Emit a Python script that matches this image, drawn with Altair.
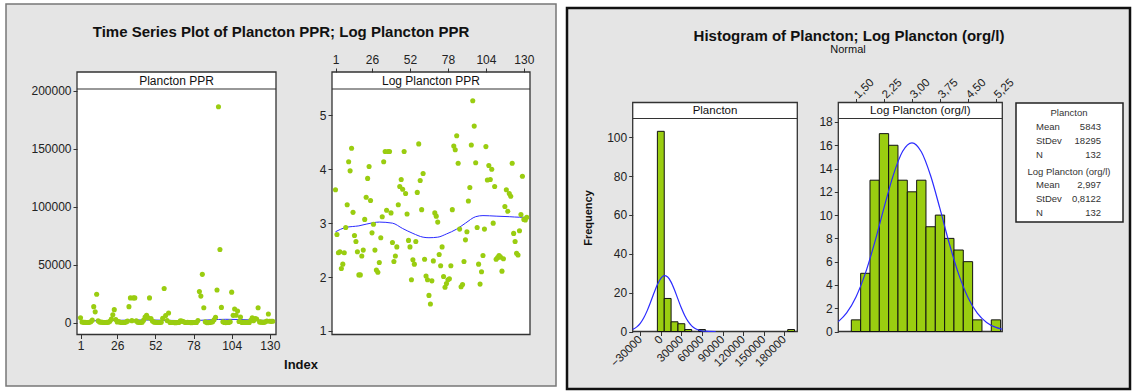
import altair as alt
import pandas as pd

FONT = "Liberation Sans"
GREEN = "#9acd10"
BLUE = "#2b2bff"

# ---------------- data ----------------
index = list(range(1, 133))

log_plancton = [3.62, 2.79, 2.45, 2.47, 2.16, 2.24, 2.45, 2.92, 3.34, 4.14,
                3.97, 4.39, 3.20, 2.77, 2.66, 2.47, 2.04, 2.04, 2.39, 2.50,
                3.07, 3.48, 3.83, 4.05, 3.42, 2.82, 2.98, 2.50, 2.13, 2.09,
                2.27, 2.73, 3.12, 4.14, 4.33, 3.24, 4.33, 4.33, 3.19, 2.64,
                2.29, 2.39, 2.56, 3.34, 3.68, 3.81, 3.63, 4.33, 3.55, 3.17,
                2.68, 2.56, 1.95, 2.32, 2.24, 2.66, 3.57, 4.47, 3.79, 3.25,
                3.92, 2.33, 2.02, 1.95, 1.66, 1.50, 1.93, 2.30, 3.19, 3.13,
                3.02, 2.42, 2.21, 2.56, 2.01, 1.81, 1.88, 1.95, 1.97, 2.21,
                3.25, 4.43, 4.36, 4.62, 4.11, 2.89, 1.82, 1.86, 2.29, 2.69,
                2.84, 3.41, 3.66, 4.45, 5.27, 4.80, 4.12, 2.92, 2.24, 1.87,
                2.10, 2.40, 2.89, 4.42, 3.80, 4.07, 3.81, 4.00, 3.00, 3.68,
                2.33, 2.36, 2.40, 2.37, 2.11, 2.34, 3.31, 3.62, 3.22, 3.55,
                3.50, 4.11, 2.81, 2.66, 2.44, 2.41, 2.86, 3.16, 3.87, 3.07,
                3.06, 3.11]

plancton = [4169, 617, 282, 295, 145, 174, 282, 832, 2188, 13804,
            9333, 24547, 1585, 589, 457, 295, 110, 110, 245, 316,
            1175, 3020, 6761, 11220, 2630, 661, 955, 316, 135, 123,
            186, 537, 1318, 13804, 21380, 1738, 21380, 21380, 1549, 437,
            195, 245, 363, 2188, 4786, 6457, 4266, 21380, 3548, 1479,
            479, 363, 89, 209, 174, 457, 3715, 29512, 6166, 1778,
            8318, 214, 105, 89, 46, 32, 85, 200, 1549, 1349,
            1047, 263, 162, 363, 102, 65, 76, 89, 93, 162,
            1778, 26915, 22909, 41687, 12882, 776, 66, 72, 195, 490,
            692, 2570, 4571, 28184, 186209, 63096, 13183, 832, 174, 74,
            126, 251, 776, 26303, 6310, 11749, 6457, 10000, 1000, 4786,
            214, 229, 251, 234, 129, 219, 2042, 4169, 1660, 3548,
            3162, 12882, 646, 457, 275, 257, 724, 1445, 7413, 1175,
            1148, 1288]

loess_log_idx = [1, 8, 17, 27, 31, 40, 47, 54, 61, 65, 71, 77, 84, 90, 97, 102, 111, 120, 127, 132]
loess_log_val = [2.84, 2.92, 2.95, 3.01, 3.02, 3.00, 2.90, 2.81, 2.74, 2.73,
                 2.74, 2.80, 2.89, 3.00, 3.12, 3.14, 3.13, 3.12, 3.11, 3.11]
loess_raw_idx = [1, 20, 40, 50, 60, 75, 90, 100, 110, 120, 132]
loess_raw_val = [1500, 1800, 2300, 2300, 2000, 1700, 2500, 2900, 2700, 2200, 1800]

hist_raw_center = [0, 10000, 20000, 30000, 40000, 60000, 190000]
hist_raw_count = [103, 17, 5, 4, 1, 1, 1]
hist_raw_width = 10000
hist_log_center = [1.50, 1.75, 2.00, 2.25, 2.50, 2.75, 3.00, 3.25,
                   3.50, 3.75, 4.00, 4.25, 4.50, 4.75, 5.00, 5.25]
hist_log_count = [1, 5, 13, 17, 16, 13, 12, 13, 9, 10, 8, 7, 6, 1, 0, 1]
hist_log_width = 0.25

norm_raw_x = [-41000, -35000, -30000, -25000, -20000, -15000, -10000, -5000, 0, 5000,
              10000, 15000, 20000, 25000, 30000, 35000, 40000, 45000, 50000, 55000,
              60000, 65000, 70000, 80000]
norm_raw_y = [1.09, 2.38, 4.22, 6.95, 10.61, 15.04, 19.78, 24.15, 27.35, 28.75,
              28.05, 25.40, 21.34, 16.64, 12.04, 8.08, 5.04, 2.91, 1.56, 0.78,
              0.36, 0.16, 0.06, 0.01]
norm_log_x = [1.026, 1.25, 1.5, 1.75, 2.0, 2.25, 2.5, 2.75, 3.0, 3.25,
              3.5, 3.75, 4.0, 4.25, 4.5, 4.75, 5.0, 5.25, 5.42]
norm_log_y = [0.85, 1.60, 2.97, 4.99, 7.63, 10.62, 13.44, 15.48, 16.21, 15.44,
              13.38, 10.55, 7.56, 4.93, 2.93, 1.58, 0.78, 0.35, 0.19]

ts_ticks = [1, 26, 52, 78, 104, 130]
raw_ticks = [0, 50000, 100000, 150000, 200000]
log_ticks = [1, 2, 3, 4, 5]
hraw_x_ticks = [-30000, 0, 30000, 60000, 90000, 120000, 150000, 180000]
hraw_y_ticks = [0, 20, 40, 60, 80, 100]
hlog_x_ticks = [1.50, 2.25, 3.00, 3.75, 4.50, 5.25]
hlog_y_ticks = [0, 2, 4, 6, 8, 10, 12, 14, 16, 18]

stats_rows = [("Mean", "5843"), ("StDev", "18295"), ("N", "132")]
stats_rows_log = [("Mean", "2,997"), ("StDev", "0,8122"), ("N", "132")]

# ---------------- layout (pixels) ----------------
W, H = 1132, 391
P1 = dict(x0=77, x1=276, st=72, sb=89, bot=334.5)
P2 = dict(x0=332, x1=530, st=72, sb=89, bot=334.5)
P3 = dict(x0=632.7, x1=797.3, st=102.5, sb=118.5, bot=331.5)
P4 = dict(x0=838.3, x1=1002.3, st=102.5, sb=118.5, bot=331.5)

TS_DOM = [-1.4, 134.2]
RAW_DOM = [-10200, 201500]
LOG_DOM = [0.935, 5.488]
HRAW_X_DOM = [-41000, 199000]
HRAW_Y_DOM = [0, 109.6]
HLOG_X_DOM = [1.026, 5.42]
HLOG_Y_DOM = [0, 18.3]

one = pd.DataFrame({"k": [0]})


def rect(x0, x1, y0, y1, fill, stroke=None, sw=1.0):
    kw = dict(fill=fill)
    if stroke:
        kw.update(stroke=stroke, strokeWidth=sw)
    return alt.Chart(one).mark_rect(**kw).encode(
        x=alt.value(x0), x2=alt.value(x1), y=alt.value(y0), y2=alt.value(y1))


def hline(x0, x1, y, color="#333333", sw=1.2):
    return alt.Chart(one).mark_rule(color=color, strokeWidth=sw).encode(
        x=alt.value(x0), x2=alt.value(x1), y=alt.value(y))


def text(s, x, y, size=12, weight="normal", align="center", angle=0, color="#111111"):
    kw = dict(text=s, font=FONT, fontSize=size, fontWeight=weight, align=align,
              baseline="middle", color=color)
    if angle:
        kw["angle"] = angle
    return alt.Chart(one).mark_text(**kw).encode(x=alt.value(x), y=alt.value(y))


def axis(orient, offset, values, fmt=None, expr=None, angle=None, align=None,
         baseline=None, size=12):
    kw = dict(orient=orient, offset=offset, values=values, grid=False, domain=False,
              ticks=True, tickSize=4, tickColor="#333333", tickWidth=1,
              labelColor="#222222", labelFont=FONT, labelFontSize=size,
              labelPadding=2, labelFlush=False, labelOverlap=False, title="", zindex=1)
    if fmt:
        kw["format"] = fmt
    if expr:
        kw["labelExpr"] = expr
    if angle is not None:
        kw["labelAngle"] = angle
    if align:
        kw["labelAlign"] = align
    if baseline:
        kw["labelBaseline"] = baseline
    return alt.Axis(**kw)


def sc(dom, rng):
    return alt.Scale(domain=dom, range=rng, nice=False, zero=False)


def frame(p):
    return [rect(p["x0"], p["x1"], p["st"], p["bot"], "white", "#333333", 1.3),
            hline(p["x0"], p["x1"], p["sb"])]


# ---------------- data frames ----------------
df_ts = pd.DataFrame({"idx": index, "raw": plancton, "log": log_plancton})
df_lo_log = pd.DataFrame({"idx": loess_log_idx, "v": loess_log_val})
df_lo_raw = pd.DataFrame({"idx": loess_raw_idx, "v": loess_raw_val})
df_hraw = pd.DataFrame({"c": hist_raw_center, "n": hist_raw_count})
df_hraw["a"] = df_hraw["c"] - hist_raw_width / 2
df_hraw["b"] = df_hraw["c"] + hist_raw_width / 2
df_hraw["z"] = 0
df_hraw = df_hraw[df_hraw["n"] > 0]
df_hlog = pd.DataFrame({"c": hist_log_center, "n": hist_log_count})
df_hlog["a"] = df_hlog["c"] - hist_log_width / 2
df_hlog["b"] = df_hlog["c"] + hist_log_width / 2
df_hlog["z"] = 0
df_hlog = df_hlog[df_hlog["n"] > 0]
df_nraw = pd.DataFrame({"x": norm_raw_x, "y": norm_raw_y})
df_nlog = pd.DataFrame({"x": norm_log_x, "y": norm_log_y})

# ---------------- panel 1 : Plancton PPR time series ----------------
x1s = sc(TS_DOM, [P1["x0"], P1["x1"]])
y1s = sc(RAW_DOM, [P1["bot"], P1["sb"]])
p1_pts = alt.Chart(df_ts).mark_circle(size=26, color=GREEN, opacity=1).encode(
    x=alt.X("idx:Q", scale=x1s, axis=axis("bottom", P1["bot"] - H, ts_ticks)),
    y=alt.Y("raw:Q", scale=y1s, axis=axis("left", -P1["x0"], raw_ticks, fmt="d")))
p1_line = alt.Chart(df_lo_raw).mark_line(color=BLUE, strokeWidth=1, interpolate="monotone").encode(
    x=alt.X("idx:Q", scale=x1s, axis=None), y=alt.Y("v:Q", scale=y1s, axis=None))

# ---------------- panel 2 : Log Plancton PPR time series ----------------
x2s = sc(TS_DOM, [P2["x0"], P2["x1"]])
y2s = sc(LOG_DOM, [P2["bot"], P2["sb"]])
p2_pts = alt.Chart(df_ts).mark_circle(size=26, color=GREEN, opacity=1).encode(
    x=alt.X("idx:Q", scale=x2s, axis=axis("top", -P2["st"], ts_ticks)),
    y=alt.Y("log:Q", scale=y2s, axis=axis("left", -P2["x0"], log_ticks)))
p2_line = alt.Chart(df_lo_log).mark_line(color=BLUE, strokeWidth=1, interpolate="monotone").encode(
    x=alt.X("idx:Q", scale=x2s, axis=None), y=alt.Y("v:Q", scale=y2s, axis=None))

# ---------------- panel 3 : histogram Plancton ----------------
x3s = sc(HRAW_X_DOM, [P3["x0"], P3["x1"]])
y3s = sc(HRAW_Y_DOM, [P3["bot"], P3["sb"]])
p3_bars = alt.Chart(df_hraw).mark_rect(fill=GREEN, stroke="#111111", strokeWidth=1).encode(
    x=alt.X("a:Q", scale=x3s, axis=axis("bottom", P3["bot"] - H, hraw_x_ticks, fmt="d",
                                        angle=315, align="right", baseline="middle", size=11.5)),
    x2="b:Q",
    y=alt.Y("n:Q", scale=y3s, axis=axis("left", -P3["x0"], hraw_y_ticks)),
    y2="z:Q")
p3_norm = alt.Chart(df_nraw).mark_line(color=BLUE, strokeWidth=1.2, interpolate="monotone",
                                       clip=True).encode(
    x=alt.X("x:Q", scale=x3s, axis=None), y=alt.Y("y:Q", scale=y3s, axis=None))

# ---------------- panel 4 : histogram Log Plancton ----------------
x4s = sc(HLOG_X_DOM, [P4["x0"], P4["x1"]])
y4s = sc(HLOG_Y_DOM, [P4["bot"], P4["sb"]])
p4_bars = alt.Chart(df_hlog).mark_rect(fill=GREEN, stroke="#111111", strokeWidth=1).encode(
    x=alt.X("a:Q", scale=x4s, axis=axis("top", -P4["st"], hlog_x_ticks,
                                        expr="replace(format(datum.value, '.2f'), '.', ',')",
                                        angle=315, align="left", baseline="middle", size=11.5)),
    x2="b:Q",
    y=alt.Y("n:Q", scale=y4s, axis=axis("left", -P4["x0"], hlog_y_ticks)),
    y2="z:Q")
p4_norm = alt.Chart(df_nlog).mark_line(color=BLUE, strokeWidth=1.2, interpolate="monotone",
                                       clip=True).encode(
    x=alt.X("x:Q", scale=x4s, axis=None), y=alt.Y("y:Q", scale=y4s, axis=None))

# ---------------- decorations & texts ----------------
layers = [
    rect(6, 556, 4, 386, "#e5e5e5", "#777777", 1.5),
    rect(567, 1130, 8, 389, "#e5e5e5", "#111111", 2.5),
]
for p in (P1, P2, P3, P4):
    layers += frame(p)
layers.append(rect(1016, 1123, 103, 222, "white", "#222222", 1.5))

layers += [p1_line, p1_pts, p2_line, p2_pts, p3_bars, p3_norm, p4_bars, p4_norm]

layers += [
    text("Time Series Plot of Plancton PPR; Log Plancton PPR", 281, 32, size=15, weight="bold"),
    text("Plancton PPR", (P1["x0"] + P1["x1"]) / 2, 80.5, size=12),
    text("Log Plancton PPR", (P2["x0"] + P2["x1"]) / 2, 80.5, size=12),
    text("Index", 301, 365, size=13, weight="bold"),
    text("Histogram of Plancton; Log Plancton (org/l)", 849, 36, size=15, weight="bold"),
    text("Normal", 848, 50, size=11),
    text("Plancton", (P3["x0"] + P3["x1"]) / 2, 110.5, size=11.5),
    text("Log Plancton (org/l)", (P4["x0"] + P4["x1"]) / 2, 110.5, size=11.5),
    text("Frequency", 589, 218, size=11, weight="bold", angle=270),
    text("Plancton", 1069, 112.5, size=9.5, color="#333333"),
    text("Log Plancton (org/l)", 1069, 171.5, size=9.5, color="#333333"),
]
for i, (lab, val) in enumerate(stats_rows):
    yy = 127 + i * 13.8
    layers.append(text(lab, 1036, yy, size=9.5, align="left", color="#333333"))
    layers.append(text(val, 1101, yy, size=9.5, align="right", color="#333333"))
for i, (lab, val) in enumerate(stats_rows_log):
    yy = 184.5 + i * 14.2
    layers.append(text(lab, 1036, yy, size=9.5, align="left", color="#333333"))
    layers.append(text(val, 1101, yy, size=9.5, align="right", color="#333333"))

chart = alt.layer(*layers).resolve_scale(x="independent", y="independent").properties(
    width=W, height=H, autosize=alt.AutoSizeParams(type="none"), padding=0,
    background="white",
).configure_view(stroke=None)

chart.save("out.html", embed_options={"renderer": "svg", "actions": False})
